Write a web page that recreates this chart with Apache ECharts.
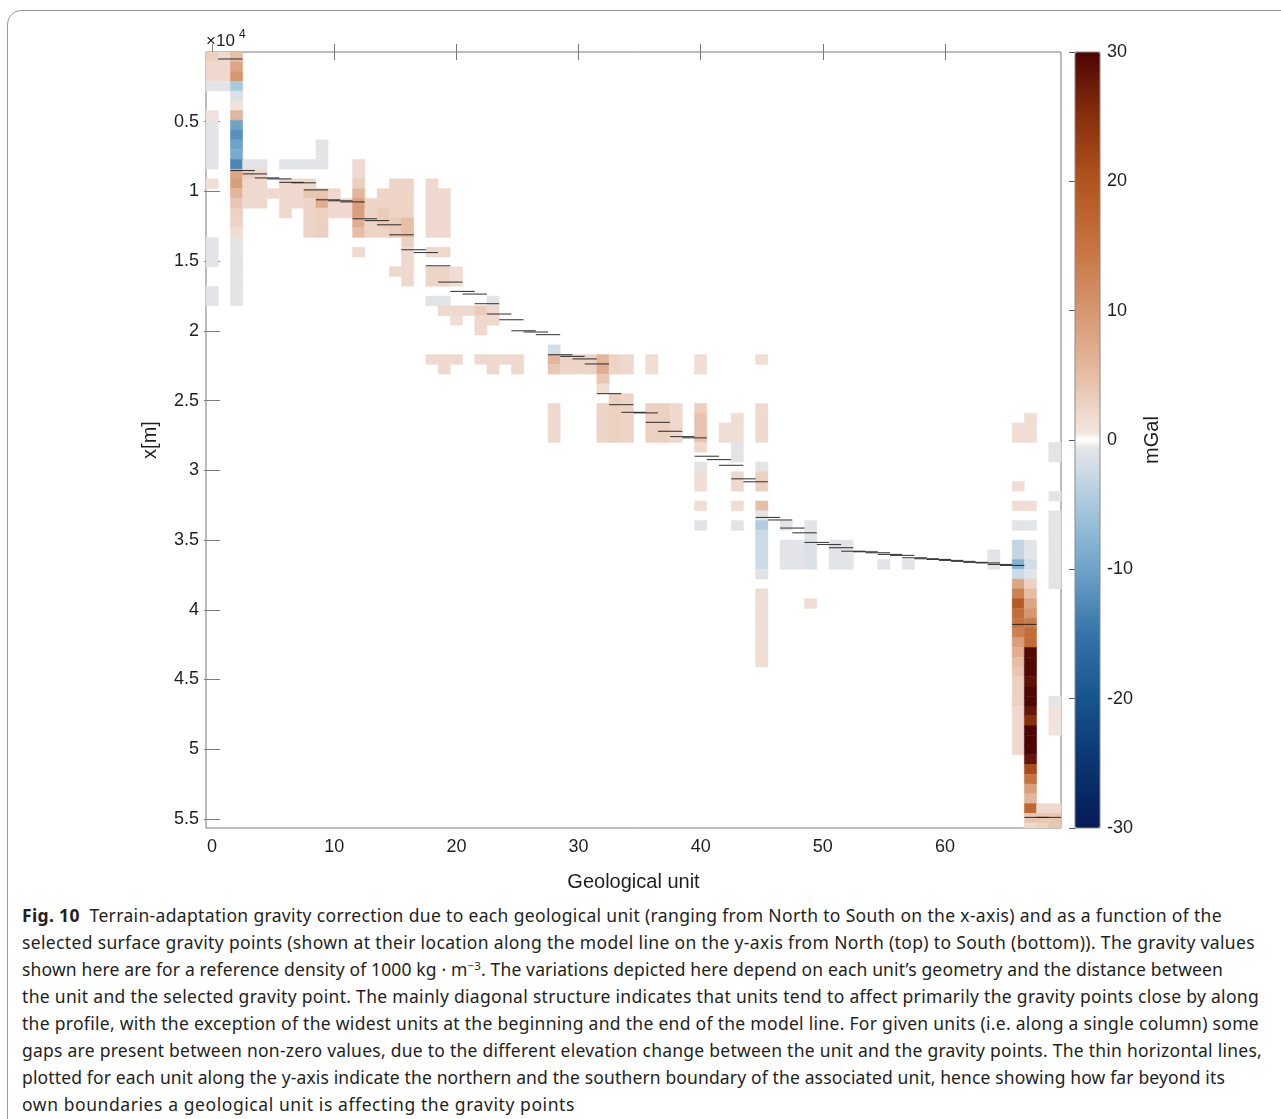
<!DOCTYPE html>
<html><head><meta charset="utf-8">
<script src="https://cdn.jsdelivr.net/npm/echarts@6/dist/echarts.min.js"></script>
<style>
html,body{margin:0;padding:0;background:#fff;width:1281px;height:1119px;overflow:hidden;}
#frame{position:absolute;left:7px;top:10px;width:1310px;height:1150px;border:1px solid #9a9a9a;border-radius:14px;box-sizing:border-box;}
#chart{position:absolute;left:0;top:0;width:1281px;height:900px;}
#caption{position:absolute;left:22px;top:902px;font-family:'Noto Sans',sans-serif;font-size:17.5px;line-height:27px;color:#231f20;white-space:nowrap;}
#caption .ln{display:block;width:max-content;}
#caption b{font-weight:700;}
#caption sup{font-size:11.5px;line-height:0;vertical-align:6px;}
</style></head><body>
<div id="frame"></div>
<div id="chart"></div>
<div id="caption">
<span class="ln"><b>Fig. 10</b>&nbsp; Terrain-adaptation gravity correction due to each geological unit (ranging from North to South on the x-axis) and as a function of the</span>
<span class="ln">selected surface gravity points (shown at their location along the model line on the y-axis from North (top) to South (bottom)). The gravity values</span>
<span class="ln">shown here are for a reference density of 1000 kg · m<sup>−3</sup>. The variations depicted here depend on each unit’s geometry and the distance between</span>
<span class="ln">the unit and the selected gravity point. The mainly diagonal structure indicates that units tend to affect primarily the gravity points close by along</span>
<span class="ln">the profile, with the exception of the widest units at the beginning and the end of the model line. For given units (i.e. along a single column) some</span>
<span class="ln">gaps are present between non-zero values, due to the different elevation change between the unit and the gravity points. The thin horizontal lines,</span>
<span class="ln">plotted for each unit along the y-axis indicate the northern and the southern boundary of the associated unit, hence showing how far beyond its</span>
<span class="ln">own boundaries a geological unit is affecting the gravity points</span>
</div>
<script>
// ---------------- DATA ----------------
// row height of gravity-point cells along the profile (m)
const ROW_M = 700;
const Y_MAX = 55650;
const xTickValues = [0, 10, 20, 30, 40, 50, 60];
const yTickValues = [5000, 10000, 15000, 20000, 25000, 30000, 35000, 40000, 45000, 50000, 55000];
const cbTickValues = [-30, -20, -10, 0, 10, 20, 30];

// runs of cells: [unit, firstRow, lastRow, value in mGal]
const cellRuns = [
  [0,0,0,3],[0,1,2,2],[0,3,3,-0.8],[0,6,6,1],[0,7,11,-0.8],[0,13,13,1.5],[0,19,21,-0.8],[0,24,25,-0.8],
  [1,0,2,2],[1,3,3,-0.8],
  [2,0,0,5],[2,1,1,8],[2,2,2,10],[2,3,3,-5],[2,4,4,-1.5],[2,5,5,1],[2,6,6,6],[2,7,7,-10],[2,8,8,-12],[2,9,9,-10],[2,10,10,-9],[2,11,11,-13],
  [2,12,12,8],[2,13,13,9],[2,14,14,6],[2,15,15,4],[2,16,16,3],[2,17,17,2.5],[2,18,18,1.5],[2,19,25,-0.8],
  [3,11,11,-0.8],[3,12,12,3],[3,13,15,2],
  [4,11,11,-0.8],[4,12,15,2],
  [5,14,14,2],
  [6,11,11,-0.8],[6,13,16,2],
  [7,11,11,-0.8],[7,13,15,2],
  [8,11,11,-0.8],[8,13,13,2],[8,14,14,4],[8,15,18,2.5],
  [9,9,11,-0.8],[9,14,14,4],[9,15,15,7],[9,16,18,3],
  [10,14,16,2],
  [11,15,16,2],
  [12,11,12,2],[12,13,13,3],[12,14,14,6],[12,15,16,9],[12,17,17,7],[12,18,18,5],[12,20,20,2],
  [13,15,18,2.5],
  [14,14,15,2.5],[14,16,17,3.5],[14,18,18,2.5],
  [15,13,16,2.5],[15,17,18,3.5],[15,22,22,2],
  [16,13,16,2.5],[16,17,18,5],[16,19,19,3],[16,20,23,2],
  [18,13,18,2],[18,20,20,2],[18,22,23,2.5],[18,25,25,-0.8],[18,31,31,2],
  [19,14,18,2],[19,20,20,2],[19,22,23,2.5],[19,25,25,-0.8],[19,26,26,2],[19,31,32,2],
  [20,22,23,1.5],[20,26,26,2],[20,27,27,1.5],[20,31,31,2],
  [21,26,26,2],
  [22,26,26,3.5],[22,27,28,2],[22,31,31,2],
  [23,25,25,-0.8],[23,26,27,2],[23,31,32,2],
  [24,31,31,2],
  [25,31,32,2],
  [28,30,30,-2],[28,31,31,6],[28,32,32,4],[28,36,39,2],
  [29,31,32,2.5],
  [30,31,32,2.5],
  [31,31,32,2.5],
  [32,31,31,6],[32,32,32,7],[32,33,33,4],[32,34,34,1.5],[32,36,39,2.5],
  [33,31,32,2.5],[33,35,39,3],
  [34,31,32,2],[34,35,39,2.5],
  [36,31,32,1.5],[36,36,39,3],
  [37,36,39,3],
  [38,36,39,2],
  [40,31,32,1.5],[40,36,36,3],[40,37,39,4.5],[40,40,40,2],[40,42,42,-0.8],[40,43,44,1.5],[40,46,46,1.5],[40,48,48,-0.8],
  [42,38,39,1.5],
  [43,37,39,1.5],[43,40,41,-0.8],[43,43,44,2],[43,46,46,1.5],[43,48,48,-0.8],
  [45,31,31,1.5],[45,36,39,2],[45,42,42,-0.8],[45,43,44,3],[45,46,46,5],[45,47,47,-0.8],[45,48,48,-4.5],[45,49,52,-2.5],[45,53,53,-1],[45,55,62,1.5],
  [47,48,48,-0.8],[47,50,52,-0.8],
  [48,50,52,-0.8],
  [49,48,49,-0.8],[49,50,52,-1.5],[49,56,56,1.5],
  [51,50,52,-0.8],
  [52,50,52,-0.8],
  [55,52,52,-0.8],
  [57,52,52,-0.8],
  [64,51,52,-0.8],
  [66,38,39,1.5],[66,44,44,1.5],[66,46,46,1.5],[66,48,48,-0.8],[66,50,51,-3],[66,52,52,-8],[66,53,53,-2.5],[66,54,54,8],[66,55,55,13],
  [66,56,56,19],[66,57,57,16],[66,58,58,15],[66,59,59,13],[66,60,60,9],[66,61,61,7],[66,62,62,5],[66,63,63,4],[66,64,66,3],[66,67,71,2],
  [67,37,39,1.5],[67,46,46,1.5],[67,48,48,-0.8],[67,50,51,-0.8],[67,52,52,-2],[67,53,53,-1],[67,54,54,3],[67,55,55,5],[67,56,56,8],[67,57,57,10],
  [67,58,58,14],[67,59,60,16],[67,61,63,29.5],[67,64,64,28.5],[67,65,66,30],[67,67,67,28],[67,68,68,25],[67,69,71,30],[67,72,72,28],
  [67,73,73,21],[67,74,74,15],[67,75,75,9],[67,76,76,6],[67,77,77,17],[67,78,78,4],[67,79,79,2],
  [68,77,77,2],[68,78,78,4],[68,79,79,3],
  [69,40,41,-0.8],[69,45,45,-0.8],[69,47,54,-0.8],[69,66,66,-0.8],[69,67,69,0.8],[69,77,77,2],[69,78,79,4]
];

// unit boundary lines: first unit covered by each 2-unit segment, and its position along the profile (m)
const boundaryUnit = [1,2,3,4,5,6,7,8,9,10,11,12,13,14,15,16,17,18,19,20,21,22,23,24,25,26,27,28,29,30,31,32,33,34,
  35,36,37,38,39,40,41,42,43,44,45,46,47,48,49,50,51,52,53,54,55,56,57,58,59,60,61,62,63,64,65,66,67,68];
const boundaryY = [500,8500,8740,9030,9100,9350,9380,9890,10600,10670,10750,11960,12090,12390,13110,14180,14380,15330,
  16500,17170,17360,18050,18790,19200,19990,20080,20270,21710,21830,22010,22370,24500,25290,25840,25880,26560,27200,
  27580,27670,28990,29230,29640,30610,30820,33380,33560,34140,34480,35170,35320,35550,35800,35840,35910,36030,36100,
  36270,36340,36390,36460,36530,36600,36640,36750,36820,41050,54890,54890];

// colour map anchors (mGal -> colour)
const cmapValues = [-30,-25,-20,-15,-10,-5,-2,-0.55,-0.5,0.5,0.55,2,5,10,15,20,25,30];
const cmapColors = ['#061b55','#0b3570','#17548e','#3474a9','#6ea3c8','#a9c9de','#d2dde6','#e6e6e7','#ffffff','#ffffff',
  '#f1e5df','#efd9ce','#e6bda5','#d6966f','#c6733f','#b2541d','#88300c','#4c0505'];

// ---------------- BUILD ----------------
function hex2rgb(h){return [parseInt(h.slice(1,3),16),parseInt(h.slice(3,5),16),parseInt(h.slice(5,7),16)];}
function cmap(v){
  if (v <= cmapValues[0]) return cmapColors[0];
  for (let i=1;i<cmapValues.length;i++){
    if (v <= cmapValues[i]){
      const t=(v-cmapValues[i-1])/(cmapValues[i]-cmapValues[i-1]);
      const a=hex2rgb(cmapColors[i-1]), b=hex2rgb(cmapColors[i]);
      const c=a.map((x,k)=>Math.round(x+(b[k]-x)*t));
      return 'rgb('+c.join(',')+')';
    }
  }
  return cmapColors[cmapColors.length-1];
}
const colorStops=[];
for (let i=0;i<=600;i++) colorStops.push(cmap(-30+i*0.1));

const cells=[];
cellRuns.forEach(([u,r0,r1,v])=>{
  for(let r=r0;r<=r1;r++) cells.push([u, r*ROW_M, (r+1)*ROW_M, v]);
});
const boundaries = boundaryUnit.map((u,i)=>[u, boundaryY[i]]);

const chart = echarts.init(document.getElementById('chart'), null, {renderer:'canvas'});
const FONT = 'Liberation Sans, Arial, sans-serif';
const AX = '#7a7a7a';
const TXT = '#1f1f1f';

function renderCell(params, api){
  const u=api.value(0), y0=api.value(1), y1=api.value(2);
  const a=api.coord([u-0.5,y0]), b=api.coord([u+0.5,y1]);
  const cs=params.coordSys;
  const r=echarts.graphic.clipRectByRect({x:a[0],y:a[1],width:b[0]-a[0],height:b[1]-a[1]},{x:cs.x,y:cs.y,width:cs.width,height:cs.height});
  if(!r) return null;
  const col=api.visual('color');
  return {type:'rect', shape:r, style:{fill:col, stroke:col, lineWidth:0.5}};
}
function renderLine(params, api){
  const u=api.value(0), y=api.value(1);
  const a=api.coord([u-0.5,y]), b=api.coord([u+1.5,y]);
  return {type:'line', shape:{x1:a[0],y1:a[1],x2:b[0],y2:b[1]}, style:{stroke:'rgba(30,30,30,0.85)', lineWidth:1.1}};
}

const option = {
  animation:false,
  textStyle:{fontFamily:FONT},
  grid:[
    {left:206, top:52, width:855, height:776, show:true, borderColor:AX, borderWidth:1, backgroundColor:'#fff', z:0},
    {left:1075, top:52, width:25, height:776, show:true, borderColor:'#8a8a8a', borderWidth:1, backgroundColor:'transparent', z:10}
  ],
  xAxis:[
    {gridIndex:0, type:'value', min:-0.5, max:69.5, position:'bottom',
     axisLine:{show:false}, splitLine:{show:false},
     axisTick:{show:true, inside:true, length:8, customValues:xTickValues, lineStyle:{color:AX}},
     axisLabel:{customValues:xTickValues, fontSize:18, color:TXT, margin:10, fontFamily:FONT},
     name:'Geological unit', nameLocation:'middle', nameGap:44, nameTextStyle:{fontSize:20, color:TXT, fontFamily:FONT}},
    {gridIndex:0, type:'value', min:-0.5, max:69.5, position:'top',
     axisLine:{show:false}, splitLine:{show:false},
     axisTick:{show:true, inside:true, length:8, customValues:xTickValues, lineStyle:{color:AX}},
     axisLabel:{show:false}},
    {gridIndex:1, type:'value', min:0, max:1, show:false}
  ],
  yAxis:[
    {gridIndex:0, type:'value', inverse:true, min:0, max:Y_MAX, position:'left',
     axisLine:{show:false}, splitLine:{show:false},
     axisTick:{show:true, inside:true, length:8, customValues:yTickValues, lineStyle:{color:AX}},
     axisLabel:{customValues:yTickValues, fontSize:18, color:TXT, margin:7, fontFamily:FONT, formatter:v=>String(v/10000)},
     name:'x[m]', nameLocation:'middle', nameGap:46, nameRotate:90, nameTextStyle:{fontSize:20, color:TXT, fontFamily:FONT}},
    {gridIndex:0, type:'value', inverse:true, min:0, max:Y_MAX, position:'right',
     axisLine:{show:false}, splitLine:{show:false},
     axisTick:{show:true, inside:true, length:8, customValues:yTickValues, lineStyle:{color:AX}},
     axisLabel:{show:false}},
    {gridIndex:1, type:'value', min:-30, max:30, interval:10, position:'right',
     axisLine:{show:false}, splitLine:{show:false},
     axisTick:{show:true, inside:true, length:6, lineStyle:{color:'#5a5a5a'}},
     axisLabel:{fontSize:18, color:TXT, margin:7, fontFamily:FONT},
     name:'mGal', nameLocation:'middle', nameGap:42, nameRotate:90, nameTextStyle:{fontSize:20, color:TXT, fontFamily:FONT}}
  ],
  visualMap:{
    type:'continuous', min:-30, max:30, dimension:3, seriesIndex:0,
    calculable:false, show:true, orient:'vertical', left:1075, top:52,
    itemWidth:25, itemHeight:776, padding:0, hoverLink:false,
    inRange:{color:colorStops}
  },
  graphic:[
    {type:'text', left:206, top:33, style:{text:'×10', fontSize:17, fill:TXT, fontFamily:FONT}},
    {type:'text', left:239, top:29, style:{text:'4', fontSize:12, fill:TXT, fontFamily:FONT}}
  ],
  series:[
    {type:'custom', name:'cells', xAxisIndex:0, yAxisIndex:0, renderItem:renderCell,
     dimensions:['unit','top','bottom','value'], encode:{x:0, y:[1,2]}, data:cells, z:2},
    {type:'custom', name:'boundaries', xAxisIndex:0, yAxisIndex:0, renderItem:renderLine,
     dimensions:['unit','y'], encode:{x:0, y:1}, data:boundaries, z:3}
  ]
};
chart.setOption(option);

// fit caption lines to the reference line lengths
const captionWidths=[1200,1233,1201,1237,1237,1240,1203,553];
document.querySelectorAll('#caption .ln').forEach((el,i)=>{
  const w=el.getBoundingClientRect().width;
  const n=el.textContent.length;
  el.style.letterSpacing=((captionWidths[i]-w)/n).toFixed(3)+'px';
});
</script>
</body></html>
